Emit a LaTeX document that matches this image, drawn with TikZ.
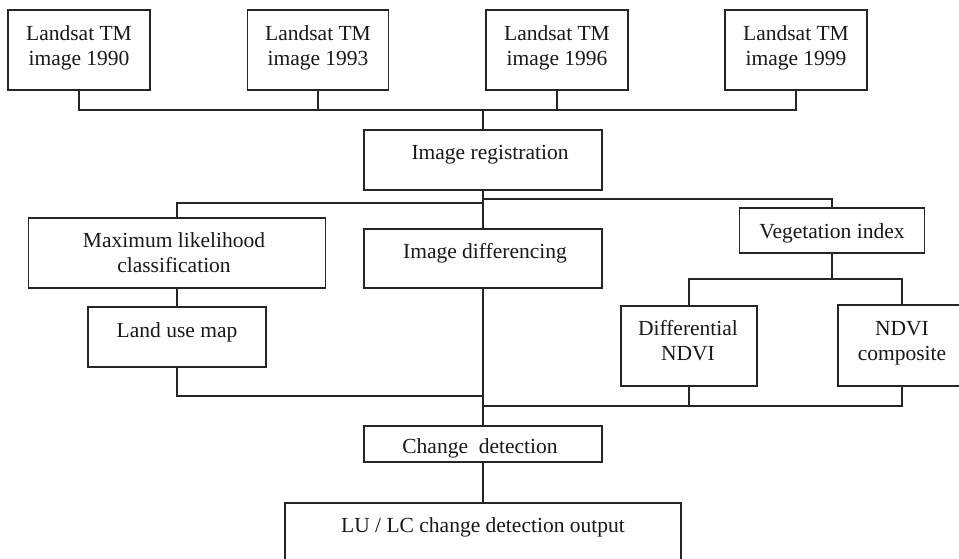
\documentclass[tikz,border=0pt]{standalone}
\usepackage{fontspec}
\setmainfont{Liberation Serif}
\begin{document}
\begin{tikzpicture}[x=1pt,y=-1pt,
  box/.style={draw=black!85,line width=1.2pt,rectangle,inner sep=0pt,outer sep=0pt},
  txt/.style={inner sep=0pt,anchor=base,font=\fontsize{21.5}{25}\selectfont,text=black!90},
  conn/.style={draw=black!85,line width=1.2pt}]
\useasboundingbox (0,0) rectangle (959,558);
\fill[white] (0,0) rectangle (959,558);
\clip (0,0) rectangle (959,558);
% boxes
\node[box,minimum width=142pt,minimum height=80pt] (t1) at (79,50) {};
\node[box,minimum width=141pt,minimum height=80pt] (t2) at (318,50) {};
\node[box,minimum width=142pt,minimum height=80pt] (t3) at (557,50) {};
\node[box,minimum width=142pt,minimum height=80pt] (t4) at (796,50) {};
\node[box,minimum width=238pt,minimum height=60pt] (reg) at (483,160) {};
\node[box,minimum width=297pt,minimum height=70pt] (ml) at (177,253) {};
\node[box,minimum width=238pt,minimum height=59pt] (diff) at (483,258.5) {};
\node[box,minimum width=178pt,minimum height=60pt] (lu) at (177,337) {};
\node[box,minimum width=185pt,minimum height=45pt] (veg) at (832,230.5) {};
\node[box,minimum width=136pt,minimum height=80pt] (dn) at (689,346) {};
\node[box,minimum width=128pt,minimum height=81pt] (nc) at (902,345.5) {};
\node[box,minimum width=238pt,minimum height=36pt] (cd) at (483,444) {};
\node[box,minimum width=396pt,minimum height=80pt] (out) at (483,543) {};
% texts
\node[txt] (t1a) at (79,40) {Landsat TM};
\node[txt] (t1b) at (79,65) {image 1990};
\node[txt] (t2a) at (318,40) {Landsat TM};
\node[txt] (t2b) at (318,65) {image 1993};
\node[txt] (t3a) at (557,40) {Landsat TM};
\node[txt] (t3b) at (557,65) {image 1996};
\node[txt] (t4a) at (796,40) {Landsat TM};
\node[txt] (t4b) at (796,65) {image 1999};
\node[txt] (regt) at (490,159) {Image registration};
\node[txt] (mla) at (174,247) {Maximum likelihood};
\node[txt] (mlb) at (174,272) {classification};
\node[txt] (difft) at (485,258) {Image differencing};
\node[txt] (lut) at (177,337) {Land use map};
\node[txt] (vegt) at (832,238) {Vegetation index};
\node[txt] (dna) at (688,335) {Differential};
\node[txt] (dnb) at (688,360) {NDVI};
\node[txt] (nca) at (902,335) {NDVI};
\node[txt] (ncb) at (902,360) {composite};
\node[txt] (cdt) at (480,453) {Change\ \ detection};
\node[txt] (outt) at (483,532) {LU / LC change detection output};
% junctions
\coordinate (jA) at (483,110);
\coordinate (jB) at (483,203);
\coordinate (jC) at (483,199);
\coordinate (jD) at (832,279);
\coordinate (jE) at (483,406);
\coordinate (jF) at (483,396);
% connectors
\draw[conn] (t1.south) |- (jA);
\draw[conn] (t4.south) |- (jA);
\draw[conn] (t2.south) -- (t2.south |- jA);
\draw[conn] (t3.south) -- (t3.south |- jA);
\draw[conn] (jA) -- (reg.north);
\draw[conn] (reg.south) -- (diff.north);
\draw[conn] (ml.north) |- (jB);
\draw[conn] (jC) -| (veg.north);
\draw[conn] (ml.south) -- (lu.north);
\draw[conn] (veg.south) -- (jD);
\draw[conn] (dn.north) |- (jD) -| (nc.north);
\draw[conn] (dn.south) |- (jE);
\draw[conn] (nc.south) |- (jE);
\draw[conn] (lu.south) |- (jF);
\draw[conn] (diff.south) -- (cd.north);
\draw[conn] (cd.south) -- (out.north);
\end{tikzpicture}
\end{document}
